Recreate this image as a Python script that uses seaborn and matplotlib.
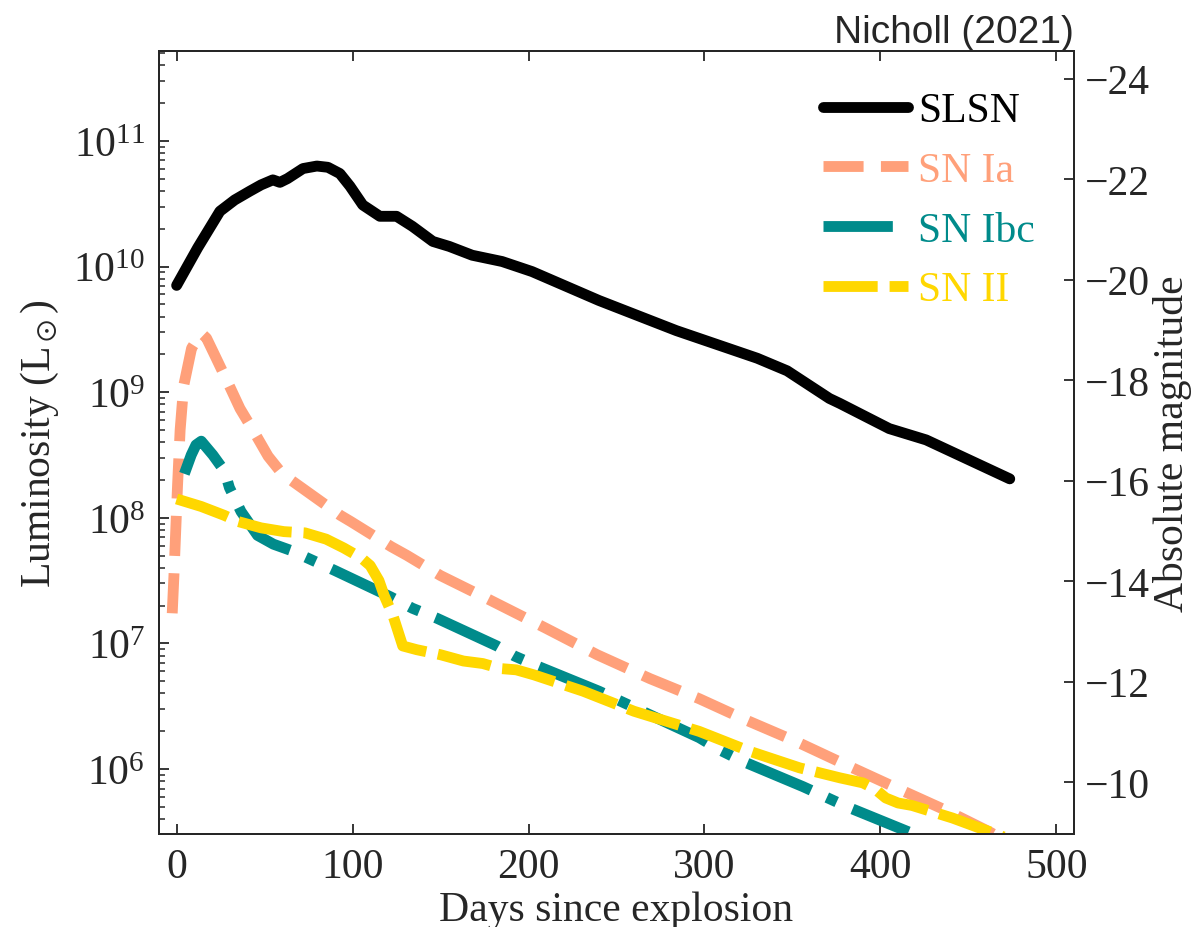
import numpy as np
import pandas as pd
import matplotlib
matplotlib.use("Agg")
import matplotlib.pyplot as plt
import seaborn as sns

# ---- data ----
slsn_days = [0, 12, 24.6, 33, 41.6, 48, 54.7, 58.7, 63, 71.8, 79.7, 86, 92.8, 98.5, 105.8,
             115.5, 125, 134, 145.6, 155, 168, 185, 202, 240, 284, 330, 347, 371, 377, 405, 426, 473.5]
slsn_logL = [9.85, 10.15, 10.44, 10.53, 10.60, 10.65, 10.69, 10.67, 10.70, 10.78, 10.80, 10.79,
             10.74, 10.64, 10.49, 10.40, 10.40, 10.32, 10.20, 10.16, 10.09, 10.04, 9.96, 9.73,
             9.49, 9.27, 9.17, 8.95, 8.91, 8.71, 8.62, 8.31]

ia_days = [-2.5, -1.5, -0.5, 0.5, 2, 4, 8.5, 14, 17, 22.5, 30, 36, 45, 52, 60, 74, 93, 99, 122,
           131, 150, 176, 210, 239, 269, 297, 322, 352, 381, 409, 439, 462, 472]
ia_logL = [7.24, 7.55, 7.90, 8.25, 8.70, 9.05, 9.35, 9.47, 9.43, 9.27, 9.05, 8.87, 8.66, 8.49,
           8.35, 8.21, 8.02, 7.97, 7.77, 7.70, 7.54, 7.36, 7.12, 6.91, 6.72, 6.56, 6.40, 6.22,
           6.03, 5.85, 5.66, 5.50, 5.42]

ibc_days = [4.4, 8.3, 11, 14, 20.6, 27.3, 30, 36.6, 46, 55, 65, 77.5, 90, 121.7, 134, 148, 182,
            192, 205, 240, 297, 309, 322, 356, 367, 381, 416]
ibc_logL = [8.35, 8.50, 8.58, 8.61, 8.50, 8.37, 8.24, 8.05, 7.86, 7.79, 7.74, 7.66, 7.58, 7.37,
            7.28, 7.20, 6.98, 6.90, 6.82, 6.62, 6.25, 6.15, 6.06, 5.86, 5.79, 5.70, 5.50]

ii_days = [0, 14, 27, 35, 48, 61, 73, 85, 95, 105, 110, 115, 118, 123, 128.5, 136.5, 150, 163,
           174, 184, 193, 203, 231, 260, 297, 326, 354, 377, 390, 397, 403, 410, 418, 441, 470]
ii_logL = [8.15, 8.09, 8.02, 7.97, 7.92, 7.89, 7.88, 7.83, 7.76, 7.68, 7.62, 7.50, 7.38, 7.22,
           6.98, 6.95, 6.91, 6.86, 6.84, 6.80, 6.79, 6.75, 6.62, 6.46, 6.30, 6.14, 6.01, 5.93,
           5.89, 5.84, 5.77, 5.73, 5.71, 5.61, 5.46]

labels = ["SLSN", "SN Ia", "SN Ibc", "SN II"]
colors = ["#000000", "#FFA07A", "#008B8B", "#FFD700"]
styles = ["-", "--", "-.", (0, (5, 1.1))]
x_ticks = [0, 100, 200, 300, 400, 500]
mag_ticks = [-24, -22, -20, -18, -16, -14, -12, -10]

# ---- style ----
sns.set_style("ticks")
plt.rcParams["font.family"] = ["Liberation Serif", "DejaVu Serif"]
plt.rcParams["mathtext.fontset"] = "stix"
plt.rcParams["axes.linewidth"] = 1.4

fig = plt.figure(figsize=(12.02, 9.28), dpi=100)
fig.patch.set_facecolor("white")
ax = fig.add_axes([0.1323, 0.1002, 0.7612, 0.8438])
ax.set_yscale("log")

series = [(slsn_days, slsn_logL), (ia_days, ia_logL), (ibc_days, ibc_logL), (ii_days, ii_logL)]
for (d, lg), lab, col, ls in zip(series, labels, colors, styles):
    df = pd.DataFrame({"day": d, "L": np.power(10.0, lg)})
    sns.lineplot(data=df, x="day", y="L", ax=ax, color=col, lw=7.8, linestyle=ls,
                 label=lab, estimator=None, sort=False)

ymin, ymax = 10 ** 5.483, 10 ** 11.716
ax.set_xlim(-10, 510)
ax.set_ylim(ymin, ymax)
ax.set_xticks(x_ticks)
ax.set_xlabel("Days since explosion", fontsize=30, labelpad=3)
ax.set_ylabel(r"Luminosity (L$_\odot$)", fontsize=30, labelpad=9)
ax.tick_params(which="major", direction="in", length=7, width=1.3, labelsize=30,
               top=True, right=False, pad=10)
ax.tick_params(which="minor", direction="in", length=4, width=1.1, top=False, right=False)
ax.tick_params(axis="x", which="minor", bottom=False)

ax2 = ax.twinx()
ax2.set_ylim(4.74 - 2.5 * np.log10(ymin), 4.74 - 2.5 * np.log10(ymax))
ax2.set_yticks(mag_ticks)
ax2.tick_params(which="major", direction="in", length=7, width=1.3, labelsize=30, pad=8)
ax2.set_ylabel("Absolute magnitude", fontsize=30, labelpad=2)

leg = ax.legend(loc="upper left", bbox_to_anchor=(0.726, 0.948), frameon=False,
                fontsize=30, handlelength=2.04, handletextpad=0.23, labelspacing=0.51,
                borderpad=0, borderaxespad=0)
for txt, col in zip(leg.get_texts(), colors):
    txt.set_color(col)

ax.text(1.0, 1.001, "Nicholl (2021)", transform=ax.transAxes, ha="right", va="bottom",
        fontsize=28, family=["Liberation Sans", "DejaVu Sans"])

fig.savefig("out.png", dpi=100, facecolor="white")
